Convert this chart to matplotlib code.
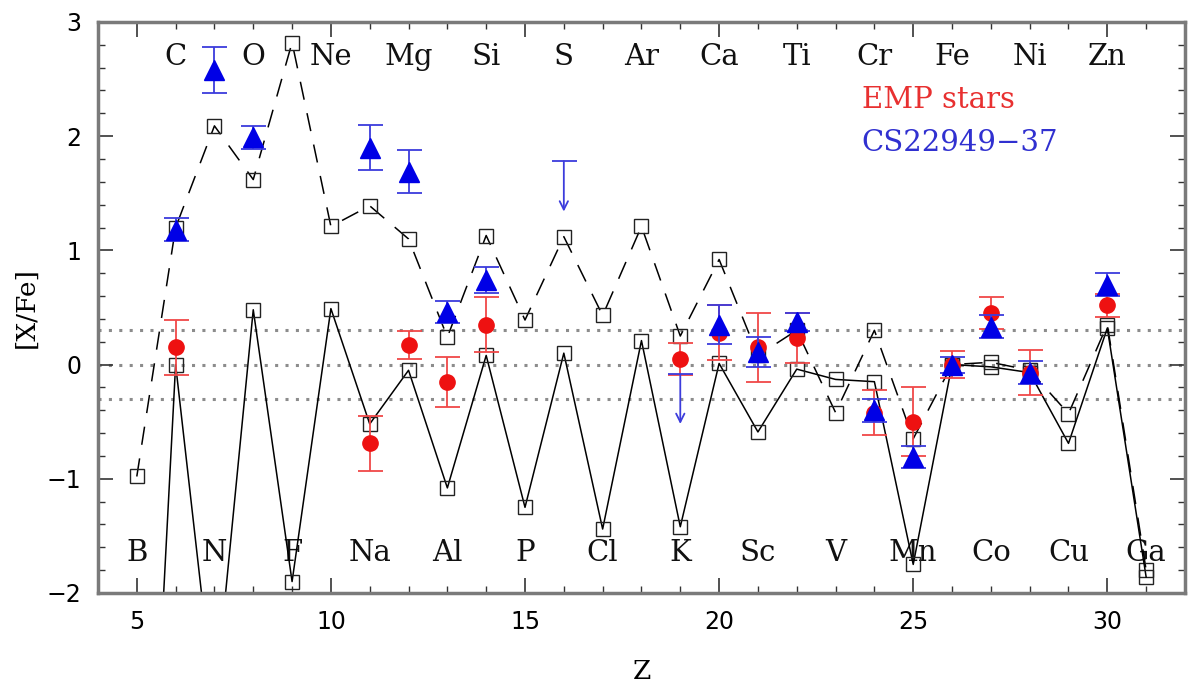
import matplotlib
matplotlib.use("Agg")
import matplotlib.pyplot as plt
from matplotlib.ticker import MultipleLocator

# elements B..Ga, Z = 5..31
elements = ["B", "C", "N", "O", "F", "Ne", "Na", "Mg", "Al", "Si", "P", "S", "Cl",
            "Ar", "K", "Ca", "Sc", "Ti", "V", "Cr", "Mn", "Fe", "Co", "Ni", "Cu",
            "Zn", "Ga"]
z_model = list(range(5, 32))

# yield models (solid and dashed curves)
model_solid = [-6.5, 0.00, -3.0, 0.48, -1.90, 0.49, -0.52, -0.05, -1.08, 0.08, -1.25,
               0.10, -1.44, 0.21, -1.42, 0.01, -0.59, -0.04, -0.13, -0.15, -1.75,
               0.00, -0.02, -0.07, -0.69, 0.32, -1.86]
model_dashed = [-0.98, 1.20, 2.09, 1.62, 2.82, 1.21, 1.39, 1.10, 0.24, 1.13, 0.39,
                1.12, 0.43, 1.21, 0.25, 0.92, 0.08, 0.30, -0.42, 0.30, -0.65,
                0.00, 0.02, -0.05, -0.43, 0.35, -1.80]

# mean of extremely metal-poor stars
emp_z = [6, 11, 12, 13, 14, 19, 20, 21, 22, 24, 25, 26, 27, 28, 30]
emp_val = [0.15, -0.69, 0.17, -0.15, 0.35, 0.05, 0.28, 0.15, 0.23, -0.42, -0.50,
           0.00, 0.45, -0.07, 0.52]
emp_err = [0.24, 0.24, 0.12, 0.22, 0.24, 0.14, 0.24, 0.30, 0.22, 0.20, 0.30,
           0.12, 0.14, 0.20, 0.10]

# CS22949-37 abundances
cs_z = [6, 7, 8, 11, 12, 13, 14, 20, 21, 22, 24, 25, 26, 27, 28, 30]
cs_val = [1.18, 2.58, 1.99, 1.90, 1.69, 0.46, 0.74, 0.35, 0.11, 0.37, -0.40,
          -0.81, 0.00, 0.33, -0.07, 0.70]
cs_err = [0.10, 0.20, 0.10, 0.20, 0.19, 0.10, 0.11, 0.17, 0.13, 0.08, 0.10,
          0.10, 0.07, 0.10, 0.10, 0.10]
cs_lim_z = [16, 19]
cs_lim_val = [1.78, -0.08]
LIM_LEN = 0.44

RED = "#ee1111"
RED_BAR = "#f04848"
BLUE = "#0000e6"
BLUE_BAR = "#3c3cdc"
SERIF = "DejaVu Serif"

fig = plt.figure(figsize=(11.89, 6.86), dpi=100)
ax = fig.add_axes([0.0824, 0.1356, 0.9142, 0.8324])
ax.set_xlim(4, 32)
ax.set_ylim(-2, 3)

for y in (0.3, 0.0, -0.3):
    ax.axhline(y, color="#8c8c8c", lw=2.2, linestyle=(0, (1, 2.4)), zorder=1)

ax.plot(z_model, model_dashed, color="black", lw=1.1, dashes=(12, 9),
        marker="s", ms=9.5, mfc="none", mec="#222222", mew=1.0, zorder=2)
ax.plot(z_model, model_solid, color="black", lw=1.1,
        marker="s", ms=9.5, mfc="none", mec="#222222", mew=1.0, zorder=2)

ax.errorbar(emp_z, emp_val, yerr=emp_err, fmt="o", color=RED, ms=11,
            ecolor=RED_BAR, elinewidth=1.3, capsize=9, capthick=1.3, zorder=3)
ax.errorbar(cs_z, cs_val, yerr=cs_err, fmt="^", color=BLUE, ms=14,
            ecolor=BLUE_BAR, elinewidth=1.3, capsize=9, capthick=1.3, zorder=4)

# upper limits
ax.plot(cs_lim_z, cs_lim_val, linestyle="none", marker="_", ms=18, mew=1.3,
        color=BLUE_BAR, zorder=4)
for zl, yl in zip(cs_lim_z, cs_lim_val):
    ax.annotate("", xy=(zl, yl - LIM_LEN), xytext=(zl, yl),
                arrowprops=dict(arrowstyle="->,head_length=0.6,head_width=0.3",
                                color=BLUE_BAR, lw=1.3, shrinkA=0, shrinkB=0),
                zorder=4)

# element names, even Z on top, odd Z at bottom
for z, name in zip(z_model, elements):
    y = 2.69 if z % 2 == 0 else -1.65
    ax.text(z, y, name, ha="center", va="center", fontsize=21,
            family=SERIF, color="#111111", zorder=1)

ax.text(23.67, 2.32, "EMP stars", color="#e83030", fontsize=21,
        family=SERIF, ha="left", va="center")
ax.text(23.67, 1.94, "CS22949\u221237", color="#3030d0", fontsize=21,
        family=SERIF, ha="left", va="center")

ax.xaxis.set_major_locator(MultipleLocator(5))
ax.xaxis.set_minor_locator(MultipleLocator(1))
ax.yaxis.set_major_locator(MultipleLocator(1))
ax.yaxis.set_minor_locator(MultipleLocator(0.2))
ax.tick_params(which="both", direction="in", top=True, right=True,
               color="#333333", labelsize=17)
ax.tick_params(which="major", length=11, width=1.2, pad=12)
ax.tick_params(which="minor", length=5, width=1.0)
for spine in ax.spines.values():
    spine.set_color("#7a7a7a")
    spine.set_linewidth(2.5)

ax.set_xlabel("Z", fontsize=19, family=SERIF, labelpad=18)
ax.set_ylabel("[X/Fe]", fontsize=19, family=SERIF, labelpad=6)

fig.savefig("out.png", dpi=100)
